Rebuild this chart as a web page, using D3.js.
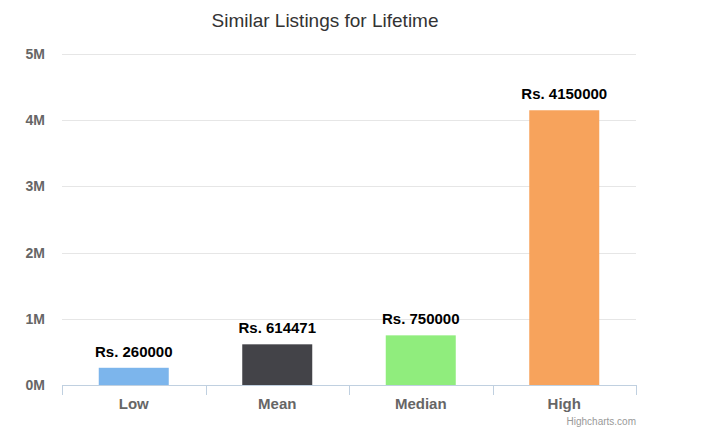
<!DOCTYPE html>
<html>
<head>
<meta charset="utf-8">
<script src="https://cdnjs.cloudflare.com/ajax/libs/d3/7.8.5/d3.min.js"></script>
<style>
body{margin:0;background:#fff;}
svg{display:block;font-family:"Liberation Sans",Arial,sans-serif;}
</style>
</head>
<body>
<svg id="chart" width="711" height="428"></svg>
<script>
var categories=["Low","Mean","Median","High"];
var values=[260000,614471,750000,4150000];
var colors=["#7cb5ec","#434348","#90ed7d","#f7a35c"];
var yTicks=[0,1000000,2000000,3000000,4000000,5000000];
var yTickLabels=["0M","1M","2M","3M","4M","5M"];

var svg=d3.select("#chart");
var plotLeft=62,plotRight=636,plotTop=54,plotBottom=385;

var x=d3.scaleBand().domain(categories).range([plotLeft,plotRight]).paddingInner(0).paddingOuter(0);
var y=d3.scaleLinear().domain([0,5000000]).range([plotBottom,plotTop]);

svg.append("text")
   .attr("x",325)
   .attr("y",27)
   .attr("text-anchor","middle")
   .style("font-size","19px")
   .style("fill","#333")
   .text("Similar Listings for Lifetime");

// gridlines
svg.append("g").selectAll("line")
   .data(yTicks.slice(1))
   .join("line")
   .attr("x1",plotLeft).attr("x2",plotRight)
   .attr("y1",d=>Math.round(y(d))+0.5).attr("y2",d=>Math.round(y(d))+0.5)
   .style("stroke","#e6e6e6").style("stroke-width",1);

// y labels
svg.append("g").selectAll("text")
   .data(yTicks)
   .join("text")
   .attr("x",45)
   .attr("y",d=>y(d)+5)
   .attr("text-anchor","end")
   .style("font-size","14px")
   .style("font-weight","bold")
   .style("fill","#666")
   .text((d,i)=>yTickLabels[i]);

// bars
var bw=70;
svg.append("g").selectAll("rect")
   .data(values)
   .join("rect")
   .attr("x",(d,i)=>x(categories[i])+x.bandwidth()/2-bw/2)
   .attr("y",d=>y(d))
   .attr("width",bw)
   .attr("height",d=>y(0)-y(d))
   .style("fill",(d,i)=>colors[i]);

// data labels
svg.append("g").selectAll("text")
   .data(values)
   .join("text")
   .attr("x",(d,i)=>x(categories[i])+x.bandwidth()/2)
   .attr("y",d=>y(d)-11)
   .attr("text-anchor","middle")
   .style("font-size","15px")
   .style("font-weight","bold")
   .style("fill","#000")
   .text(d=>"Rs. "+d);

// x axis
var xa=svg.append("g");
xa.append("line")
  .attr("x1",plotLeft).attr("x2",plotRight+1)
  .attr("y1",plotBottom+0.5).attr("y2",plotBottom+0.5)
  .style("stroke","#c0d0e0");
var ticks=categories.map(c=>x(c)).concat([plotRight]);
xa.selectAll(".tk")
  .data(ticks)
  .join("line")
  .attr("class","tk")
  .attr("x1",d=>Math.round(d)+0.5).attr("x2",d=>Math.round(d)+0.5)
  .attr("y1",plotBottom).attr("y2",plotBottom+10)
  .style("stroke","#c0d0e0");
xa.selectAll("text")
  .data(categories)
  .join("text")
  .attr("x",d=>x(d)+x.bandwidth()/2)
  .attr("y",409)
  .attr("text-anchor","middle")
  .style("font-size","15px")
  .style("font-weight","bold")
  .style("fill","#666")
  .text(d=>d);

svg.append("text")
   .attr("x",636)
   .attr("y",425)
   .attr("text-anchor","end")
   .style("font-size","10px")
   .style("fill","#999")
   .text("Highcharts.com");
</script>
</body>
</html>
